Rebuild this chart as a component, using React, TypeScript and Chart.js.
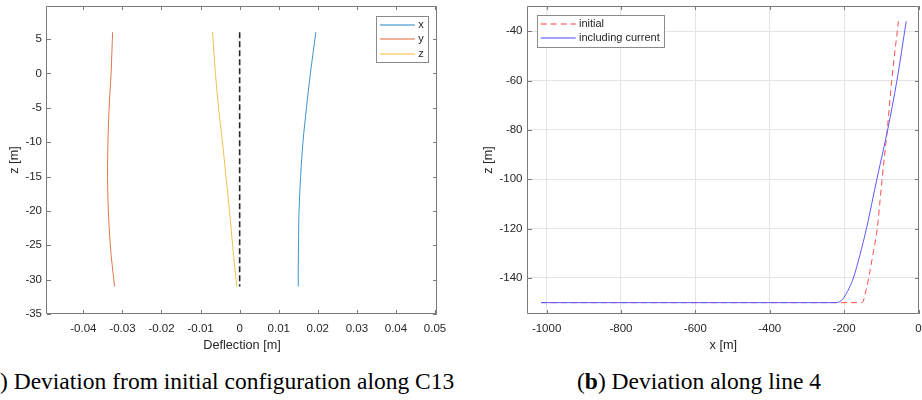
import React, { useEffect, useRef } from 'react';
import { Chart, registerables } from 'chart.js';

Chart.register(...registerables);

// ---------- Panel (a): deflection along C13 ----------
const depthZ = [6, 3, 0, -5, -10, -15, -20, -25, -28, -31];
const deflectionX = [0.0195, 0.0188, 0.0181, 0.0171, 0.0162, 0.0156, 0.0152, 0.01505, 0.015, 0.015];
const deflectionY = [-0.0325, -0.0327, -0.0329, -0.0334, -0.0337, -0.0338, -0.0336, -0.0331, -0.0326, -0.032];
const deflectionZ = [-0.0069, -0.0066, -0.0062, -0.0054, -0.0044, -0.0035, -0.0026, -0.0018, -0.0013, -0.0007];
const referenceX = [0, 0];
const referenceZ = [6, -31];
const seriesNamesA = ['x', 'y', 'z'];
const xTicksA = [-0.04, -0.03, -0.02, -0.01, 0, 0.01, 0.02, 0.03, 0.04, 0.05];
const xTickLabelsA = ['-0.04', '-0.03', '-0.02', '-0.01', '0', '0.01', '0.02', '0.03', '0.04', '0.05'];
const yTicksA = [-35, -30, -25, -20, -15, -10, -5, 0, 5];

// ---------- Panel (b): deviation along line 4 ----------
const initialX = [-1015, -154, -149, -145, -141, -134, -122, -111, -98, -84, -72, -54];
const initialZ = [-150, -150, -149.5, -147.5, -145, -140, -130, -120, -100, -80, -60, -36];
const currentX = [-1015, -222, -212, -204, -196, -186, -175, -158, -140, -112, -83, -58, -33];
const currentZ = [-150, -150, -149.6, -148.6, -146.8, -144, -140, -131, -120, -100, -80, -60, -36];
const seriesNamesB = ['initial', 'including current'];
const xTicksB = [-1000, -800, -600, -400, -200, 0];
const yTicksB = [-140, -120, -100, -80, -60, -40];

const SANS = "'Liberation Sans', Arial, Helvetica, sans-serif";
const SERIF = "'Liberation Serif', 'Times New Roman', Times, serif";
const TEXT = '#262626';

const zip = (xs: number[], ys: number[]) => xs.map((x, i) => ({ x, y: ys[i] }));

type LegendItem = { label: string; color: string; dash?: number[]; width?: number };
type FrameCfg = {
  xTicks: number[];
  yTicks: number[];
  legend: LegendItem[];
  side: 'left' | 'right';
  dx: number;
  dy: number;
};

function makeFramePlugin(cfg: FrameCfg) {
  return {
    id: 'matlabFrame',
    afterDraw(chart: any) {
      const { ctx, chartArea: a } = chart;
      const xs = chart.scales.x;
      const ys = chart.scales.y;
      const L = Math.round(a.left);
      const R = Math.round(a.right);
      const T = Math.round(a.top);
      const B = Math.round(a.bottom);
      ctx.save();
      ctx.strokeStyle = '#7a7a7a';
      ctx.lineWidth = 1;
      ctx.setLineDash([]);
      ctx.beginPath();
      ctx.rect(L - 0.5, T + 0.5, R - L, B - T - 1);
      const tl = 4;
      cfg.xTicks.forEach((v) => {
        const p = Math.round(xs.getPixelForValue(v)) + 0.5;
        ctx.moveTo(p, B);
        ctx.lineTo(p, B - tl);
        ctx.moveTo(p, T);
        ctx.lineTo(p, T + tl);
      });
      cfg.yTicks.forEach((v) => {
        const p = Math.round(ys.getPixelForValue(v)) + 0.5;
        ctx.moveTo(L, p);
        ctx.lineTo(L + tl, p);
        ctx.moveTo(R, p);
        ctx.lineTo(R - tl, p);
      });
      ctx.stroke();

      // legend box
      ctx.font = `11px ${SANS}`;
      const items = cfg.legend;
      const textW = Math.max(...items.map((it) => ctx.measureText(it.label).width));
      const padL = 4;
      const lineLen = 35;
      const gap = 3.3;
      const padR = 4;
      const rowH = 14.6;
      const padV = 8.5;
      const w = padL + lineLen + gap + textW + padR;
      const h = padV * 2 + (items.length - 1) * rowH;
      const x0 = cfg.side === 'right' ? a.right - cfg.dx - w : a.left + cfg.dx;
      const y0 = a.top + cfg.dy;
      const bx = Math.round(x0) + 0.5;
      const by = Math.round(y0) + 0.5;
      ctx.fillStyle = '#ffffff';
      ctx.fillRect(bx, by, Math.round(w), Math.round(h));
      ctx.strokeStyle = '#8a8a8a';
      ctx.lineWidth = 1;
      ctx.strokeRect(bx, by, Math.round(w), Math.round(h));
      items.forEach((it, i) => {
        const cy = Math.round(y0 + padV + i * rowH);
        ctx.save();
        ctx.beginPath();
        ctx.strokeStyle = it.color;
        ctx.globalAlpha = 0.75;
        ctx.lineWidth = it.width || 1.4;
        ctx.setLineDash(it.dash || []);
        ctx.moveTo(x0 + padL, cy);
        ctx.lineTo(x0 + padL + lineLen, cy);
        ctx.stroke();
        ctx.restore();
        ctx.fillStyle = TEXT;
        ctx.textBaseline = 'middle';
        ctx.textAlign = 'left';
        ctx.fillText(it.label, x0 + padL + lineLen + gap, cy);
      });
      ctx.restore();
    },
  };
}

function axisCommon(
  ticks: number[],
  min: number,
  max: number,
  title: string,
  isX: boolean,
  size: number,
  titlePad: number,
  tickLen: number,
  showGrid: boolean,
  labels?: string[]
) {
  return {
    type: 'linear',
    min,
    max,
    afterBuildTicks: (s: any) => {
      s.ticks = ticks.map((v) => ({ value: v }));
    },
    afterFit: (s: any) => {
      if (isX) s.height = size;
      else s.width = size;
    },
    ticks: {
      autoSkip: false,
      maxRotation: 0,
      padding: 0,
      color: TEXT,
      font: { family: SANS, size: 11.5 },
      callback: (v: number) => {
        if (labels) {
          const idx = ticks.findIndex((t) => Math.abs(t - v) < 1e-9);
          return idx >= 0 ? labels[idx] : '';
        }
        return String(v);
      },
    },
    grid: {
      display: showGrid,
      color: '#e4e4e4',
      lineWidth: 1,
      drawTicks: true,
      tickLength: tickLen,
      tickColor: 'rgba(0,0,0,0)',
    },
    border: { display: false },
    title: {
      display: true,
      text: title,
      color: TEXT,
      font: { family: SANS, size: 12.7 },
      padding: isX ? { top: 0, bottom: 0 } : { top: titlePad, bottom: 0 },
    },
  };
}

function PanelA() {
  const ref = useRef<HTMLCanvasElement>(null);
  useEffect(() => {
    const colors = ['#3d93cc', '#e0774a', '#f0c04d'];
    const series = [deflectionX, deflectionY, deflectionZ];
    const datasets: any[] = series.map((s, i) => ({
      label: seriesNamesA[i],
      data: zip(s, depthZ),
      borderColor: colors[i],
      borderWidth: 1,
      pointRadius: 0,
      showLine: true,
      tension: 0.35,
    }));
    datasets.push({
      label: 'reference',
      data: zip(referenceX, referenceZ),
      borderColor: '#262626',
      borderWidth: 1.6,
      borderDash: [6, 3],
      pointRadius: 0,
      showLine: true,
    });
    const chart = new Chart(ref.current as HTMLCanvasElement, {
      type: 'scatter',
      data: { datasets },
      options: {
        animation: false,
        responsive: false,
        devicePixelRatio: 1,
        layout: { padding: { left: 0, right: 23, top: 7, bottom: 0 } },
        plugins: { legend: { display: false }, tooltip: { enabled: false } },
        scales: {
          x: axisCommon(xTicksA, -0.0493, 0.0505, 'Deflection [m]', true, 39, 0, 8, false, xTickLabelsA),
          y: axisCommon(yTicksA, -35, 9.8, 'z [m]', false, 47, 6.4, 5, false),
        },
      } as any,
      plugins: [
        makeFramePlugin({
          xTicks: xTicksA,
          yTicks: yTicksA,
          side: 'right',
          dx: 9.3,
          dy: 10,
          legend: seriesNamesA.map((n, i) => ({ label: n, color: colors[i] })),
        }),
      ],
    } as any);
    return () => chart.destroy();
  }, []);
  return (
    <canvas
      ref={ref}
      width={460}
      height={354}
      style={{ position: 'absolute', left: 0, top: -1, width: 460, height: 354 }}
    />
  );
}

function PanelB() {
  const ref = useRef<HTMLCanvasElement>(null);
  useEffect(() => {
    const red = '#ff4d4d';
    const blue = '#5959ff';
    const chart = new Chart(ref.current as HTMLCanvasElement, {
      type: 'scatter',
      data: {
        datasets: [
          {
            label: seriesNamesB[1],
            data: zip(currentX, currentZ),
            borderColor: blue,
            borderWidth: 1,
            pointRadius: 0,
            showLine: true,
            cubicInterpolationMode: 'monotone',
          },
          {
            label: seriesNamesB[0],
            data: zip(initialX, initialZ),
            borderColor: red,
            borderWidth: 1,
            borderDash: [6, 4],
            pointRadius: 0,
            showLine: true,
            cubicInterpolationMode: 'monotone',
          },
        ],
      },
      options: {
        animation: false,
        responsive: false,
        devicePixelRatio: 1,
        layout: { padding: { left: 0, right: 3.5, top: 7, bottom: 0 } },
        plugins: { legend: { display: false }, tooltip: { enabled: false } },
        scales: {
          x: axisCommon(xTicksB, -1050, 0, 'x [m]', true, 39, 0, 8, true),
          y: axisCommon(yTicksB, -154.6, -29.8, 'z [m]', false, 68, 20.7, 5.5, true),
        },
      } as any,
      plugins: [
        makeFramePlugin({
          xTicks: xTicksB,
          yTicks: yTicksB,
          side: 'left',
          dx: 8.7,
          dy: 9.3,
          legend: [
            { label: seriesNamesB[0], color: red, dash: [6, 4] },
            { label: seriesNamesB[1], color: blue },
          ],
        }),
      ],
    } as any);
    return () => chart.destroy();
  }, []);
  return (
    <canvas
      ref={ref}
      width={462}
      height={354}
      style={{ position: 'absolute', left: 460, top: -1, width: 462, height: 354 }}
    />
  );
}

const captionStyle: React.CSSProperties = {
  position: 'absolute',
  top: 370,
  fontFamily: SERIF,
  fontSize: 23.5,
  lineHeight: '23.5px',
  whiteSpace: 'nowrap',
  color: '#000',
};

export default function App() {
  return (
    <div
      style={{
        position: 'fixed',
        left: 0,
        top: 0,
        width: 922,
        height: 400,
        overflow: 'hidden',
        background: '#fff',
      }}
    >
      <PanelA />
      <PanelB />
      <div style={{ ...captionStyle, left: -19.6 }}>
        (<b>a</b>) Deviation from initial configuration along C13
      </div>
      <div style={{ ...captionStyle, left: 577 }}>
        (<b>b</b>) Deviation along line 4
      </div>
    </div>
  );
}
